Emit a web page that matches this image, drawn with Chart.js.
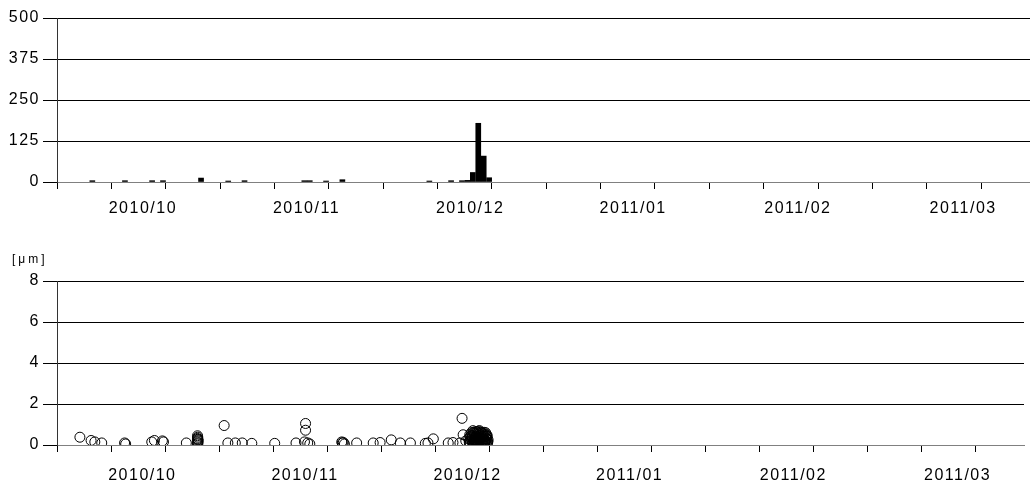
<!DOCTYPE html>
<html>
<head>
<meta charset="utf-8">
<script src="https://cdn.jsdelivr.net/npm/chart.js@4/dist/chart.umd.min.js"></script>
<style>
  body { margin: 0; background: #fff; }
  #wrap { position: relative; width: 1030px; height: 484px; }
  #top { position: absolute; left: 0; top: 0; }
  #bottom { position: absolute; left: 0; top: 230px; }
</style>
</head>
<body>
<div id="wrap">
  <canvas id="top" width="1030" height="230"></canvas>
  <canvas id="bottom" width="1030" height="254"></canvas>
</div>
<script>
// all x values are days counted from 2010/10/01
var dayMax = 179;
var tickDays = [0, 10, 20, 30, 40, 50, 60, 70, 80, 90, 100, 110, 120, 130, 140, 150, 160, 170];
var monthLabelDays = [15.8, 45.9, 76, 106, 136.3, 166.7];
var monthLabels = ['2010/10', '2010/11', '2010/12', '2011/01', '2011/02', '2011/03'];

var barTicks = [0, 125, 250, 375, 500];
var barDays = [6, 12, 17, 19, 26, 31, 34, 45, 46, 49, 52, 68, 72, 74, 75, 76, 77, 78, 79];
var barValues = [4, 4, 4, 4, 12, 3, 4, 4, 4, 3, 7, 3, 4, 4, 5, 29, 179, 79, 13];

var scatterTicks = [0, 2, 4, 6, 8];
var scatterDays = [
  4.24, 6.31, 7.0, 8.28, 12.51, 12.71, 17.54, 18.03, 19.51, 19.71, 23.94,
  26.01, 26.01, 26.11, 26.11, 26.01, 26.06, 26.11, 26.01, 26.06,
  30.94, 31.63, 33.01, 34.29, 36.06, 40.3, 44.24,
  46.01, 46.01, 45.81, 46.41, 46.8, 52.71, 52.81, 53.2, 53.01, 55.47, 58.53, 59.81, 61.87,
  63.55, 65.42, 68.18, 68.67, 69.66, 72.42, 73.3, 74.58, 74.98, 75.18, 75.67,
  76.2, 76.4, 76.5, 76.7, 76.8, 76.9, 77.0, 77.1, 77.2, 77.3, 77.4, 77.5,
  77.6, 77.7, 77.8, 77.9, 78.0, 78.1, 78.2, 78.3, 78.4, 78.5, 78.6, 78.7,
  78.8, 78.9, 79.0, 79.1, 79.2, 79.3, 79.4, 79.5, 79.6, 79.7, 79.8,
  76.6, 77.05, 77.55, 78.05, 78.55, 79.05, 79.55, 77.25, 78.25, 79.25,
  76.3, 76.45, 76.65, 76.85, 76.95, 77.15, 77.35, 77.45, 77.65, 77.75,
  77.85, 77.95, 78.15, 78.35, 78.45, 78.65, 78.75, 78.85, 78.95, 79.15,
  79.35, 79.45, 79.65, 79.75, 76.8, 77.3, 77.8, 78.3, 78.8, 79.3,
  76.5, 77.0, 77.5, 78.0, 78.5, 79.0, 79.5, 77.2, 78.2, 79.2
];
var scatterValues = [
  0.38, 0.22, 0.15, 0.1, 0.1, 0.05, 0.15, 0.22, 0.2, 0.15, 0.1,
  0.45, 0.32, 0.2, 0.1, 0.05, 0.38, 0.25, 0.15, 0.28,
  0.95, 0.1, 0.1, 0.1, 0.08, 0.08, 0.1,
  1.05, 0.72, 0.15, 0.1, 0.05, 0.15, 0.1, 0.05, 0.12, 0.1, 0.1, 0.12, 0.25,
  0.1, 0.1, 0.08, 0.1, 0.3, 0.1, 0.12, 0.1, 1.3, 0.5, 0.2,
  0.3, 0.5, 0.1, 0.6, 0.2, 0.4, 0.7, 0.05, 0.3, 0.55, 0.15, 0.65,
  0.35, 0.5, 0.1, 0.6, 0.25, 0.45, 0.7, 0.2, 0.5, 0.05, 0.35, 0.6,
  0.15, 0.45, 0.3, 0.55, 0.1, 0.4, 0.2, 0.5, 0.3, 0.1, 0.25,
  0.45, 0.62, 0.4, 0.68, 0.58, 0.62, 0.42, 0.15, 0.3, 0.2,
  0.15, 0.4, 0.3, 0.45, 0.1, 0.6, 0.25, 0.4, 0.2, 0.65,
  0.35, 0.15, 0.55, 0.3, 0.62, 0.2, 0.4, 0.55, 0.25, 0.15,
  0.6, 0.3, 0.45, 0.15, 0.35, 0.25, 0.3, 0.35, 0.3, 0.2,
  0.25, 0.12, 0.2, 0.15, 0.12, 0.05, 0.1, 0.22, 0.2, 0.2
];

var labelAt = {};
monthLabelDays.forEach(function (d, i) { labelAt[d] = monthLabels[i]; });
var tickValues = tickDays.concat(monthLabelDays).sort(function (a, b) { return a - b; });

var font = { family: '"Liberation Sans", Arial, sans-serif', size: 16 };

var spacing = {
  id: 'spacing',
  beforeDraw(chart) { chart.ctx.letterSpacing = '1.5px'; }
};

function xAxis(height, pad) {
  return {
    type: 'linear',
    min: 0,
    max: dayMax,
    offset: false,
    afterBuildTicks(scale) {
      scale.ticks = tickValues.map(function (v) { return { value: v }; });
    },
    afterFit(scale) {
      scale.height = height;
      scale.paddingLeft = 0;
      scale.paddingRight = 0;
    },
    border: { color: '#808080', width: 1 },
    grid: {
      drawOnChartArea: false,
      offset: false,
      tickLength: 7,
      tickColor: function (c) {
        return c.tick && labelAt[c.tick.value] ? 'rgba(0,0,0,0)' : '#000';
      }
    },
    ticks: {
      autoSkip: false,
      maxRotation: 0,
      minRotation: 0,
      padding: pad,
      color: '#000',
      font: font,
      callback: function (v) { return labelAt[v] || ''; }
    }
  };
}

function yAxis(ticks, tickLen) {
  return {
    min: ticks[0],
    max: ticks[ticks.length - 1],
    afterBuildTicks(scale) {
      scale.ticks = ticks.map(function (v) { return { value: v }; });
    },
    afterFit(scale) { scale.width = 57; },
    border: { color: '#333', width: 1 },
    grid: {
      color: function (c) { return c.tick && c.tick.value === 0 ? '#808080' : '#000'; },
      tickColor: '#000',
      tickLength: tickLen
    },
    ticks: { padding: 3, color: '#000', font: font }
  };
}

new Chart(document.getElementById('top'), {
  type: 'bar',
  data: {
    datasets: [{
      data: barDays.map(function (d, i) { return { x: d + 0.5, y: barValues[i] }; }),
      backgroundColor: '#000',
      borderWidth: 0,
      barThickness: 5
    }]
  },
  options: {
    responsive: false,
    animation: false,
    layout: { padding: { top: 18, right: 0, bottom: 0, left: 0 } },
    plugins: { legend: { display: false }, tooltip: { enabled: false } },
    scales: { x: xAxis(48, 10), y: yAxis(barTicks, 14) }
  },
  plugins: [spacing]
});

var unitLabel = {
  id: 'unitLabel',
  afterDraw(chart) {
    var ctx = chart.ctx;
    ctx.save();
    ctx.letterSpacing = '3px';
    ctx.font = '12px "Liberation Sans", Arial, sans-serif';
    ctx.fillStyle = '#000';
    ctx.textBaseline = 'middle';
    ctx.textAlign = 'left';
    ctx.fillText('[μm]', 12, 30);
    ctx.restore();
  }
};

new Chart(document.getElementById('bottom'), {
  type: 'scatter',
  data: {
    datasets: [{
      data: scatterDays.map(function (d, i) { return { x: d, y: scatterValues[i] }; }),
      pointRadius: 5,
      pointBorderWidth: 1,
      borderColor: '#000',
      backgroundColor: 'rgba(0,0,0,0)',
      clip: { left: 10, top: 10, right: 10, bottom: 0 }
    }]
  },
  options: {
    responsive: false,
    animation: false,
    layout: { padding: { top: 51, right: 0, bottom: 0, left: 0 } },
    plugins: { legend: { display: false }, tooltip: { enabled: false } },
    scales: { x: xAxis(39, 14), y: yAxis(scatterTicks, 14) }
  },
  plugins: [spacing, unitLabel]
});
</script>
</body>
</html>
